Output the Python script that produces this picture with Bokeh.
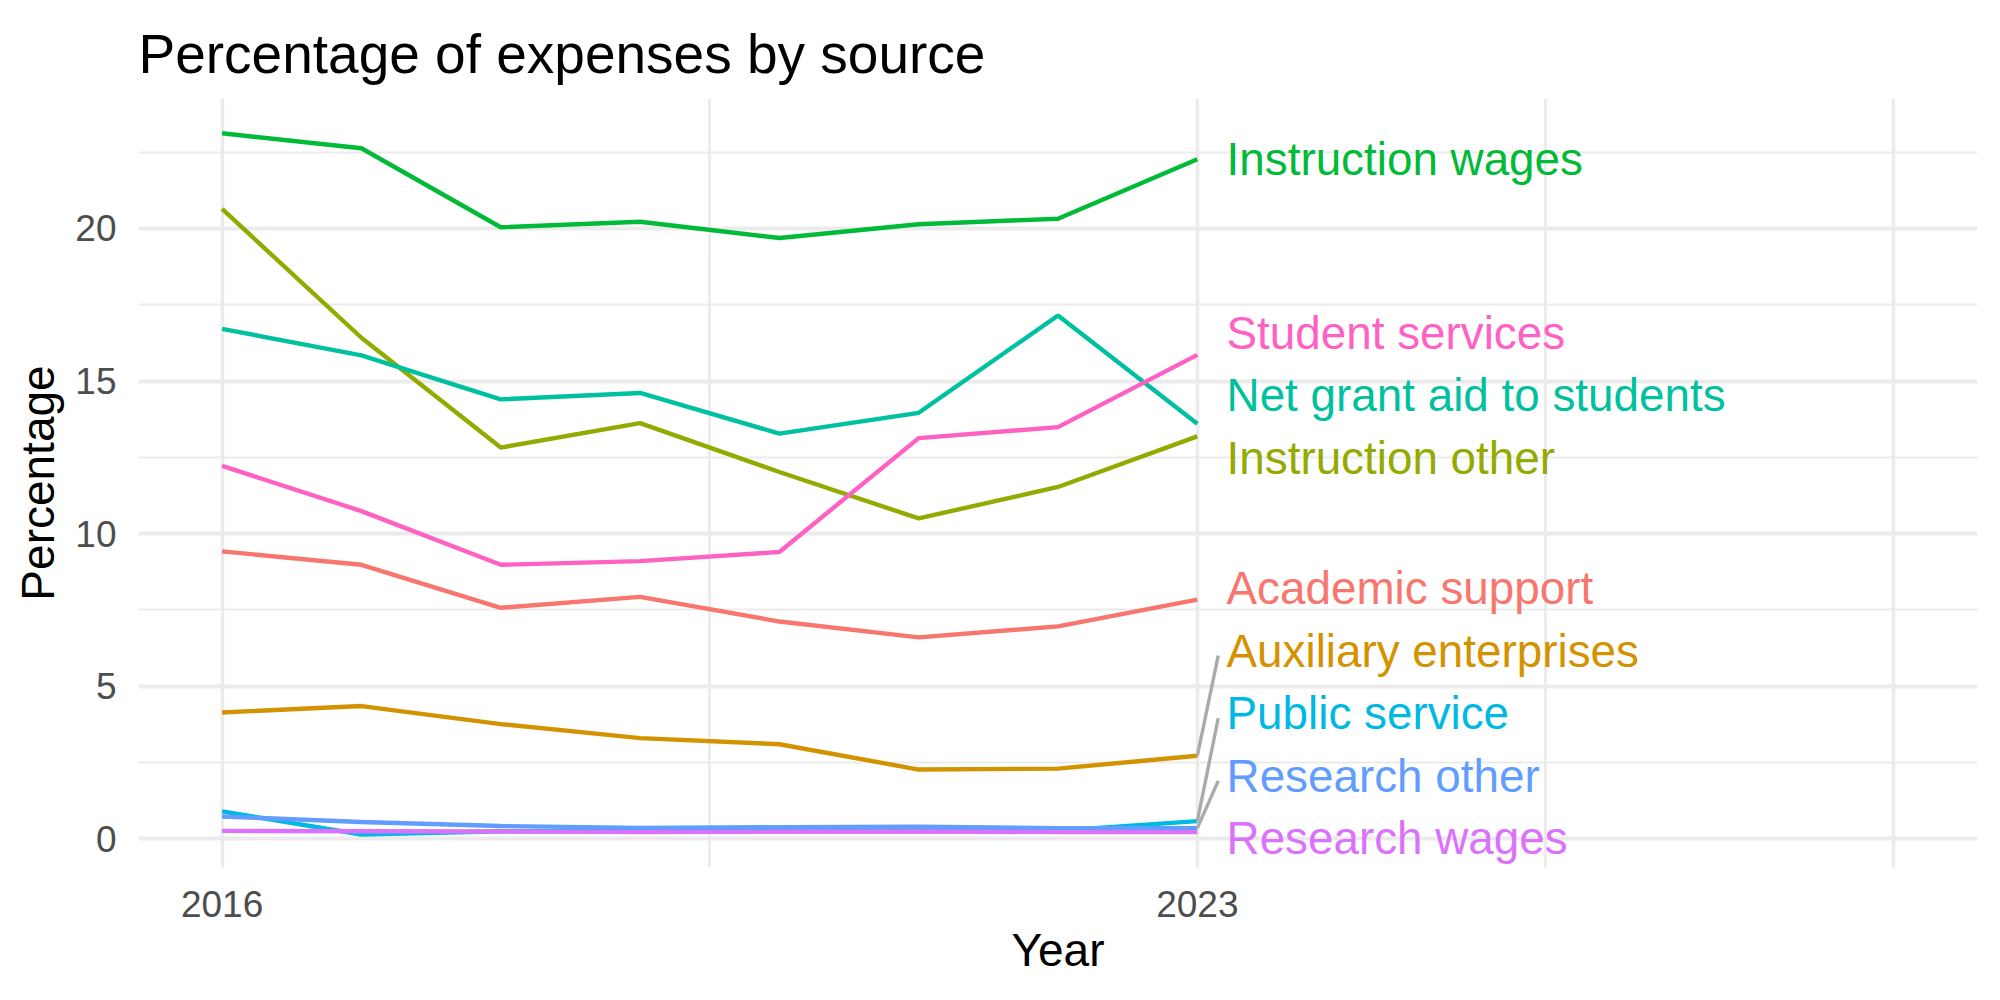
import numpy as np
from bokeh.plotting import figure
from bokeh.models import Range1d, FixedTicker, ColumnDataSource
from bokeh.core.properties import value
from bokeh.embed import file_html
from bokeh.resources import INLINE

# ---------------- data ----------------
years = [2016, 2017, 2018, 2019, 2020, 2021, 2022, 2023]

sources = [
    "Academic support",
    "Auxiliary enterprises",
    "Instruction other",
    "Instruction wages",
    "Net grant aid to students",
    "Public service",
    "Research other",
    "Research wages",
    "Student services",
]

academic_support = [9.42, 8.98, 7.57, 7.93, 7.12, 6.60, 6.96, 7.84]
auxiliary_enterprises = [4.14, 4.35, 3.76, 3.30, 3.10, 2.27, 2.30, 2.72]
instruction_other = [20.64, 16.42, 12.82, 13.62, 12.02, 10.50, 11.53, 13.19]
instruction_wages = [23.12, 22.63, 20.04, 20.22, 19.69, 20.14, 20.32, 22.27]
net_grant_aid = [16.71, 15.84, 14.40, 14.61, 13.28, 13.96, 17.15, 13.60]
public_service = [0.90, 0.14, 0.25, 0.25, 0.27, 0.30, 0.27, 0.58]
research_other = [0.73, 0.55, 0.42, 0.36, 0.38, 0.40, 0.35, 0.35]
research_wages = [0.26, 0.25, 0.24, 0.22, 0.23, 0.24, 0.22, 0.22]
student_services = [12.22, 10.74, 8.98, 9.10, 9.40, 13.13, 13.49, 15.86]

series = [
    academic_support,
    auxiliary_enterprises,
    instruction_other,
    instruction_wages,
    net_grant_aid,
    public_service,
    research_other,
    research_wages,
    student_services,
]

colors = ["#F8766D", "#D39200", "#93AA00", "#00BA38", "#00C19F",
          "#00B9E3", "#619CFF", "#DB72FB", "#FF61C3"]

x_ticks = [2016, 2023]
y_ticks = [0, 5, 10, 15, 20]

# ---------------- simple 1-D label repel ----------------
def repel(vals, gap, lo):
    order = np.argsort(vals)
    clusters = []
    for i in order:
        clusters.append([[int(i)], max(vals[i], lo)])
        while len(clusters) > 1:
            prev, cur = clusters[-2], clusters[-1]
            prev_end = prev[1] + gap * (len(prev[0]) - 1)
            if cur[1] < prev_end + gap:
                members = prev[0] + cur[0]
                mv = [vals[j] for j in members]
                m = (min(mv) + max(mv)) / 2.0
                start = max(m - gap * (len(members) - 1) / 2.0, lo)
                clusters[-2:] = [[members, start]]
            else:
                break
    pos = [0.0] * len(vals)
    for members, start in clusters:
        for k, j in enumerate(members):
            pos[j] = start + k * gap
    return pos

# ---------------- figure ----------------
FONT = "Liberation Sans"
p = figure(width=2000, height=1000, output_backend="svg", toolbar_location=None,
           x_range=Range1d(2015.4, 2028.6), y_range=Range1d(-0.94, 24.26),
           min_border_left=138, min_border_right=23, min_border_top=98,
           min_border_bottom=133)

p.outline_line_color = None
p.background_fill_color = "white"
p.border_fill_color = "white"

p.title.text = "Percentage of expenses by source"
p.title.text_font = FONT
p.title.text_font_size = "55px"
p.title.text_font_style = "normal"
p.title.text_color = "black"
p.title.vertical_align = "top"
p.title.standoff = 24
p.title.align = "left"

p.xaxis.ticker = FixedTicker(ticks=x_ticks)
p.yaxis.ticker = FixedTicker(ticks=y_ticks)
p.xgrid.ticker = FixedTicker(ticks=[2016, 2023, 2028], minor_ticks=[2019.5, 2025.5])
p.ygrid.ticker = FixedTicker(ticks=y_ticks, minor_ticks=[2.5, 7.5, 12.5, 17.5, 22.5])

for g in (p.xgrid, p.ygrid):
    g.grid_line_color = "#EBEBEB"
    g.grid_line_width = 4.0
    g.minor_grid_line_color = "#EBEBEB"
    g.minor_grid_line_width = 2.2
p.xgrid.grid_line_width = 3.4
p.xgrid.minor_grid_line_width = 2.8

for ax in (p.xaxis, p.yaxis):
    ax.axis_line_color = None
    ax.major_tick_line_color = None
    ax.minor_tick_line_color = None
    ax.major_tick_out = 0
    ax.major_tick_in = 0
    ax.major_label_text_font = FONT
    ax.major_label_text_font_size = "37px"
    ax.major_label_text_color = "#4D4D4D"
    ax.axis_label_text_font = FONT
    ax.axis_label_text_font_size = "46px"
    ax.axis_label_text_font_style = "normal"
    ax.axis_label_text_color = "black"

p.xaxis.axis_label = "Year"
p.yaxis.axis_label = "Percentage"
p.xaxis.major_label_standoff = 23
p.yaxis.major_label_standoff = 22
p.xaxis.axis_label_standoff = 4
p.yaxis.axis_label_standoff = 8

# lines
for vals, col in zip(series, colors):
    p.line(years, vals, line_color=col, line_width=4.4)

# labels (repelled at the last year)
last = [s[-1] for s in series]
label_y = repel(last, 2.05, 0.0)
label_x = years[-1] + 0.21

# connector segments for labels far from their point
seg_x0, seg_y0, seg_x1, seg_y1 = [], [], [], []
for v, ly in zip(last, label_y):
    if abs(ly - v) > 1.2:
        seg_x0.append(years[-1])
        seg_y0.append(v)
        seg_x1.append(label_x - 0.06)
        seg_y1.append(ly - 0.15)
p.segment(seg_x0, seg_y0, seg_x1, seg_y1, line_color="#AAAAAA", line_width=3.4)

src = ColumnDataSource(dict(x=[label_x] * len(sources), y=label_y,
                            text=sources, color=colors))
p.text(x="x", y="y", text="text", source=src, text_color="color",
       text_font=value(FONT), text_font_size="45.8px",
       text_baseline="middle", text_align="left")

open("out.html", "w").write(file_html(p, INLINE))
